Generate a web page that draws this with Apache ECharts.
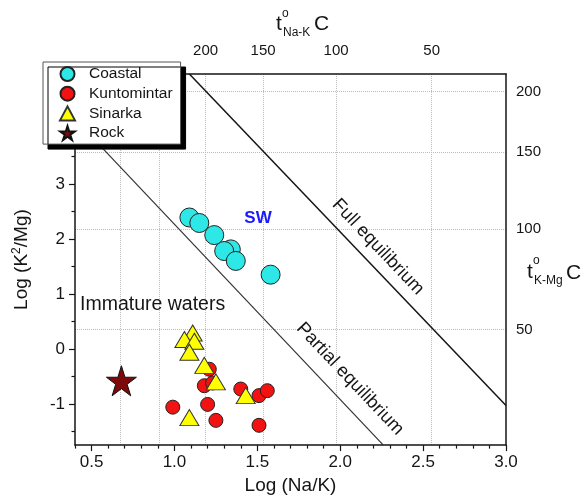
<!DOCTYPE html>
<html>
<head>
<meta charset="utf-8">
<script src="https://cdn.jsdelivr.net/npm/echarts@6/dist/echarts.min.js"></script>
<style>
  html, body { margin: 0; padding: 0; background: #fff; }
  #chart { width: 582px; height: 500px; }
</style>
</head>
<body>
<div id="chart"></div>
<script>
// [Log(Na/K), Log(K2/Mg)]
var coastal = [[1.09, 2.39], [1.15, 2.29], [1.24, 2.07], [1.34, 1.81], [1.30, 1.78], [1.37, 1.60], [1.58, 1.35]];
var kuntomintar = [[1.21, -0.37], [1.18, -0.67], [1.23, -0.62], [1.40, -0.73], [1.51, -0.85], [1.56, -0.76],
  [0.99, -1.06], [1.20, -1.01], [1.25, -1.30], [1.51, -1.39]];
var sinarka = [[1.11, 0.29], [1.06, 0.17], [1.12, 0.14], [1.09, -0.06], [1.18, -0.30], [1.25, -0.60],
  [1.43, -0.85], [1.09, -1.25]];
var rock = [[0.68, -0.58]];

// equilibrium lines (end points)
var fullEquilibrium = [[1.09, 5], [3.0, -1.03]];
var partialEquilibrium = [[0.4, 4.18], [2.26, -1.75]];

// ticks
var xTicks = [0.5, 1.0, 1.5, 2.0, 2.5, 3.0];
var xMinor = [0.4, 0.6, 0.7, 0.8, 0.9, 1.1, 1.2, 1.3, 1.4, 1.6, 1.7, 1.8, 1.9, 2.1, 2.2, 2.3, 2.4, 2.6, 2.7, 2.8, 2.9];
var yTicks = [-1, 0, 1, 2, 3, 4];
var yMinor = [-1.5, -0.5, 0.5, 1.5, 2.5, 3.5, 4.5];
var tNaKGrid = [300, 250, 200, 150, 100, 50];
var tNaKLabels = [200, 150, 100, 50];
var tKMgLabels = [200, 150, 100, 50];

// Giggenbach geothermometers: temperature <-> log ratio
function naK(t) { return 1390 / (t + 273.15) - 1.75; }
function kMg(t) { return 14 - 4410 / (t + 273.15); }

var font = 'Liberation Sans, Arial, sans-serif';
var ink = '#151515';
var gridLine = { show: true, lineStyle: { color: '#bcbcbc', type: 'dotted', width: 1 } };
var star = 'path://M50,0 L61.23,34.55 L97.55,34.55 L68.17,55.9 L79.39,90.45 L50,69.1 L20.61,90.45 L31.83,55.9 L2.45,34.55 L38.77,34.55 Z';
var rot = -0.813;

var myChart = echarts.init(document.getElementById('chart'));

myChart.setOption({
  animation: false,
  backgroundColor: '#fff',
  textStyle: { fontFamily: font },
  grid: { left: 75, right: 76, top: 74, bottom: 49, containLabel: false },
  legend: {
    data: ['Coastal', 'Kuntomintar', 'Sinarka', 'Rock'],
    orient: 'vertical',
    left: 43, top: 62,
    itemWidth: 15, itemHeight: 14, itemGap: 3.7,
    padding: [4, 8, 3, 16],
    backgroundColor: '#fff',
    borderColor: '#555', borderWidth: 1,
    shadowColor: '#000', shadowBlur: 0, shadowOffsetX: 5, shadowOffsetY: 5,
    textStyle: { fontSize: 15.5, color: ink, fontFamily: font, padding: [0, 0, 0, 9] },
    z: 10
  },
  xAxis: [
    {
      type: 'value', position: 'bottom', min: 0.4, max: 3,
      axisLine: { onZero: false, lineStyle: { color: ink, width: 1.5 } },
      axisTick: { customValues: xTicks, length: 6, lineStyle: { color: ink, width: 1.2 } },
      axisLabel: { customValues: xTicks, margin: 9, fontSize: 17, color: ink, fontFamily: font,
        formatter: function (v) { return v.toFixed(1); } },
      splitLine: { show: false },
      name: 'Log (Na/K)', nameLocation: 'middle', nameGap: 30,
      nameTextStyle: { fontSize: 19, color: ink, fontFamily: font }
    },
    {
      type: 'value', position: 'bottom', min: 0.4, max: 3,
      axisLine: { show: false, onZero: false },
      axisTick: { customValues: xMinor, length: 3.5, lineStyle: { color: ink, width: 1.2 } },
      axisLabel: { show: false },
      splitLine: { show: false }
    },
    {
      type: 'value', position: 'top', min: 0.4, max: 3,
      axisLine: { onZero: false, lineStyle: { color: ink, width: 1.5 } },
      axisTick: { show: false, customValues: tNaKGrid.map(naK) },
      axisLabel: { customValues: tNaKLabels.map(naK), margin: 16, fontSize: 15, color: ink, fontFamily: font,
        formatter: function (v) { return Math.round(1390 / (v + 1.75) - 273.15); } },
      splitLine: gridLine
    }
  ],
  yAxis: [
    {
      type: 'value', position: 'left', min: -1.75, max: 5,
      axisLine: { onZero: false, lineStyle: { color: ink, width: 1.5 } },
      axisTick: { customValues: yTicks, length: 6, lineStyle: { color: ink, width: 1.2 } },
      axisLabel: { customValues: yTicks, margin: 10, fontSize: 17, color: ink, fontFamily: font },
      splitLine: { show: false },
      name: '{a|Log (K}{s|2}{a|/Mg)}', nameLocation: 'middle', nameGap: 42,
      nameTextStyle: {
        rich: {
          a: { fontSize: 19, color: ink, fontFamily: font },
          s: { fontSize: 12, color: ink, fontFamily: font, padding: [0, 0, 10, 0] }
        }
      }
    },
    {
      type: 'value', position: 'left', min: -1.75, max: 5,
      axisLine: { show: false, onZero: false },
      axisTick: { customValues: yMinor, length: 3.5, lineStyle: { color: ink, width: 1.2 } },
      axisLabel: { show: false },
      splitLine: { show: false }
    },
    {
      type: 'value', position: 'right', min: -1.75, max: 5,
      axisLine: { show: true, onZero: false, lineStyle: { color: ink, width: 1.5 } },
      axisTick: { show: false, customValues: tKMgLabels.map(kMg) },
      axisLabel: { customValues: tKMgLabels.map(kMg), margin: 10, fontSize: 15, color: ink, fontFamily: font,
        formatter: function (v) { return Math.round(4410 / (14 - v) - 273.15); } },
      splitLine: gridLine
    }
  ],
  series: [
    {
      type: 'line', data: fullEquilibrium, symbol: 'none', silent: true, z: 1,
      lineStyle: { color: ink, width: 1.5 }
    },
    {
      type: 'line', data: partialEquilibrium, symbol: 'none', silent: true, z: 1,
      lineStyle: { color: '#333', width: 1.2 }
    },
    {
      name: 'Coastal', type: 'scatter', data: coastal, symbol: 'circle', symbolSize: 19, z: 3,
      itemStyle: { color: '#2ee8e8', borderColor: '#222', borderWidth: 1, opacity: 1 }
    },
    {
      name: 'Kuntomintar', type: 'scatter', data: kuntomintar, symbol: 'circle', symbolSize: 14, z: 3,
      itemStyle: { color: '#f21212', borderColor: '#222', borderWidth: 1, opacity: 1 }
    },
    {
      name: 'Sinarka', type: 'scatter', data: sinarka, symbol: 'triangle', symbolSize: [19, 16], z: 3,
      itemStyle: { color: '#ffff00', borderColor: '#333', borderWidth: 1, opacity: 1 }
    },
    {
      name: 'Rock', type: 'scatter', data: rock, symbol: star, symbolSize: 30, z: 3,
      itemStyle: { color: '#7d0a0a', borderColor: '#111', borderWidth: 1, opacity: 1 }
    }
  ],
  graphic: [
    { type: 'text', x: 258, y: 218, z: 20,
      style: { text: 'SW', fill: '#1a1aff', font: 'bold 17px ' + font, align: 'center', verticalAlign: 'middle' } },
    { type: 'text', x: 80, y: 305, z: 20,
      style: { text: 'Immature waters', fill: ink, font: '19.5px ' + font, align: 'left', verticalAlign: 'middle' } },
    { type: 'text', x: 378, y: 247, rotation: rot, z: 20,
      style: { text: 'Full equilibrium', fill: ink, font: '18.5px ' + font, align: 'center', verticalAlign: 'middle' } },
    { type: 'text', x: 350, y: 379, rotation: rot, z: 20,
      style: { text: 'Partial equilibrium', fill: ink, font: '18.5px ' + font, align: 'center', verticalAlign: 'middle' } },
    // top axis name: t°Na-K C
    { type: 'text', x: 276, y: 24, z: 20,
      style: { text: 't', fill: ink, font: '21px ' + font, align: 'left', verticalAlign: 'middle' } },
    { type: 'text', x: 282, y: 14, z: 20,
      style: { text: 'o', fill: ink, font: '12px ' + font, align: 'left', verticalAlign: 'middle' } },
    { type: 'text', x: 283, y: 33, z: 20,
      style: { text: 'Na-K', fill: ink, font: '12px ' + font, align: 'left', verticalAlign: 'middle' } },
    { type: 'text', x: 314, y: 24, z: 20,
      style: { text: 'C', fill: ink, font: '21px ' + font, align: 'left', verticalAlign: 'middle' } },
    // right axis name: t°K-Mg C
    { type: 'text', x: 527, y: 272, z: 20,
      style: { text: 't', fill: ink, font: '21px ' + font, align: 'left', verticalAlign: 'middle' } },
    { type: 'text', x: 533, y: 261, z: 20,
      style: { text: 'o', fill: ink, font: '12px ' + font, align: 'left', verticalAlign: 'middle' } },
    { type: 'text', x: 534, y: 281, z: 20,
      style: { text: 'K-Mg', fill: ink, font: '12px ' + font, align: 'left', verticalAlign: 'middle' } },
    { type: 'text', x: 566, y: 273, z: 20,
      style: { text: 'C', fill: ink, font: '21px ' + font, align: 'left', verticalAlign: 'middle' } }
  ]
});
</script>
</body>
</html>
